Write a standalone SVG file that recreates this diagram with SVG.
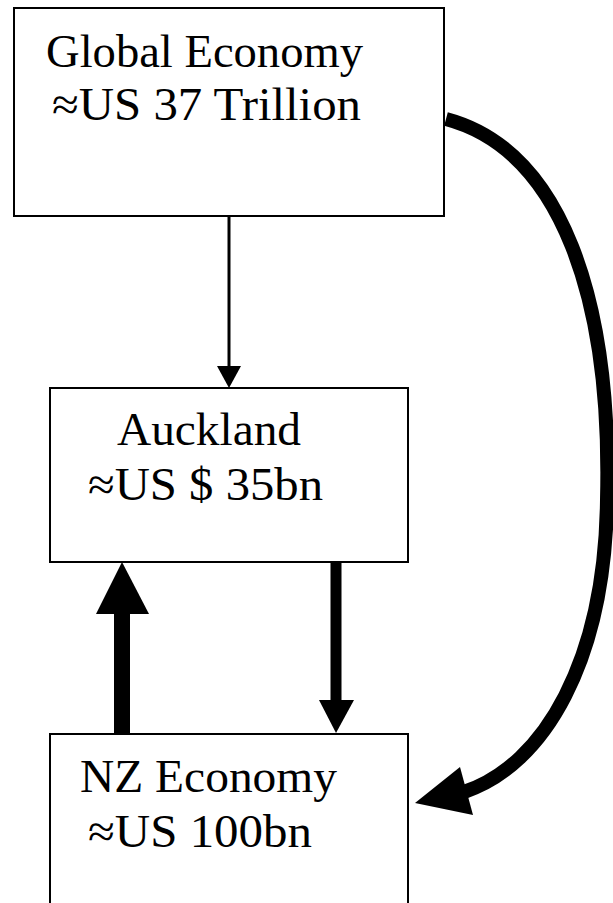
<svg xmlns="http://www.w3.org/2000/svg" width="613" height="903" viewBox="0 0 613 903">
<style>
.box{fill:#fff;stroke:#000;stroke-width:2}
.t{font-family:"Liberation Serif","Times New Roman",serif;font-size:46px;fill:#000}
</style>
<rect width="613" height="903" fill="#fff"/>
<g id="global">
<rect class="box" x="14" y="8" width="430" height="208"/>
<text class="t" x="46" y="67" textLength="317" lengthAdjust="spacingAndGlyphs">Global Economy</text>
<text class="t" x="52" y="120" textLength="309" lengthAdjust="spacingAndGlyphs">≈US 37 Trillion</text>
</g>
<g id="auckland">
<rect class="box" x="50" y="388" width="358" height="174"/>
<text class="t" x="117" y="445" textLength="184" lengthAdjust="spacingAndGlyphs">Auckland</text>
<text class="t" x="88" y="500" textLength="235" lengthAdjust="spacingAndGlyphs">≈US $ 35bn</text>
</g>
<g id="nz">
<rect class="box" x="50" y="734" width="358" height="200"/>
<text class="t" x="80" y="792" textLength="257" lengthAdjust="spacingAndGlyphs">NZ Economy</text>
<text class="t" x="88" y="847" textLength="224" lengthAdjust="spacingAndGlyphs">≈US 100bn</text>
</g>
<g id="connectors">
<line x1="229" y1="216" x2="229" y2="368" stroke="#000" stroke-width="3"/>
<polygon points="217,366 241,366 229,388" fill="#000"/>
<rect x="114" y="612" width="16" height="122" fill="#000"/>
<polygon points="122,562 96,614 149,614" fill="#000"/>
<rect x="330.5" y="562" width="11" height="140" fill="#000"/>
<polygon points="319,700 354,700 336,733" fill="#000"/>
<path d="M446 119 C562 150 612 300 607 500 C605 660 545 765 464 792" fill="none" stroke="#000" stroke-width="14"/>
<polygon points="415,803 460,767 473,815" fill="#000"/>
</g>
</svg>
